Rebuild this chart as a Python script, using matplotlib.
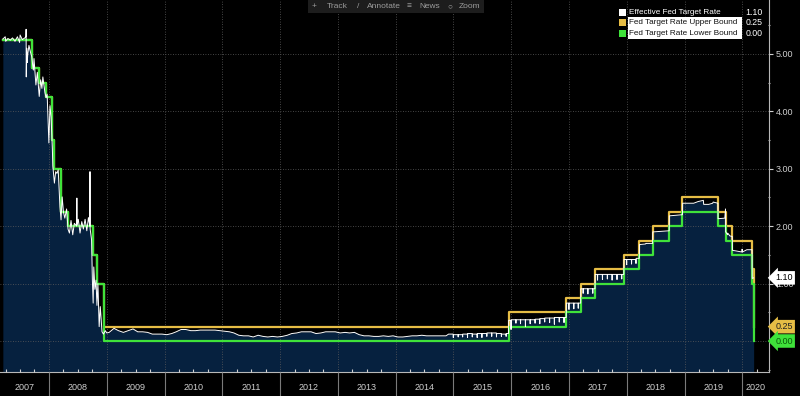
import matplotlib
matplotlib.use('Agg')
import matplotlib.pyplot as plt
import matplotlib.dates as mdates
import matplotlib.transforms as mtransforms
from matplotlib.patches import Rectangle
from matplotlib.ticker import MultipleLocator, FixedLocator
import pandas as pd

plt.rcParams['font.family'] = ['Liberation Sans', 'DejaVu Sans']

# Fed target range (step changes)
target_dates = ['2007-03-15', '2007-09-18', '2007-10-31', '2007-12-11', '2008-01-22', '2008-01-30',
                '2008-03-18', '2008-04-30', '2008-10-08', '2008-10-29', '2008-12-16', '2015-12-16',
                '2016-12-14', '2017-03-15', '2017-06-14', '2017-12-13', '2018-03-21', '2018-06-13',
                '2018-09-26', '2018-12-19', '2019-07-31', '2019-09-18', '2019-10-30', '2020-03-03',
                '2020-03-16']
upper_bound = [5.25, 4.75, 4.50, 4.25, 3.50, 3.00, 2.25, 2.00, 1.50, 1.00, 0.25, 0.50, 0.75, 1.00,
               1.25, 1.50, 1.75, 2.00, 2.25, 2.50, 2.25, 2.00, 1.75, 1.25, 0.25]
lower_bound = [5.25, 4.75, 4.50, 4.25, 3.50, 3.00, 2.25, 2.00, 1.50, 1.00, 0.00, 0.25, 0.50, 0.75,
               1.00, 1.25, 1.50, 1.75, 2.00, 2.25, 2.00, 1.75, 1.50, 1.00, 0.00]

# Effective rate, 2007-2008 (volatile)
eff_early_dates = ['2007-03-15', '2007-03-30', '2007-04-02', '2007-04-16', '2007-05-01', '2007-05-15',
                   '2007-05-31', '2007-06-15', '2007-06-29', '2007-07-02', '2007-07-16', '2007-08-01',
                   '2007-08-08', '2007-08-09', '2007-08-10', '2007-08-13', '2007-08-16', '2007-08-20',
                   '2007-08-27', '2007-09-04', '2007-09-14', '2007-09-19', '2007-09-24', '2007-09-28',
                   '2007-10-10', '2007-10-19', '2007-10-31', '2007-11-09', '2007-11-17', '2007-11-23',
                   '2007-12-06', '2007-12-13', '2007-12-20', '2007-12-31', '2008-01-07', '2008-01-14',
                   '2008-01-22', '2008-01-25', '2008-02-04', '2008-02-12', '2008-02-20', '2008-02-28',
                   '2008-03-10', '2008-03-17', '2008-03-24', '2008-04-01', '2008-04-10', '2008-04-21',
                   '2008-04-30', '2008-05-09', '2008-05-19', '2008-05-30', '2008-06-09', '2008-06-24',
                   '2008-06-25', '2008-06-26', '2008-07-04', '2008-07-15', '2008-07-26', '2008-08-05',
                   '2008-08-16', '2008-08-27', '2008-09-06', '2008-09-15', '2008-09-16', '2008-09-17',
                   '2008-09-26', '2008-10-01', '2008-10-06', '2008-10-10', '2008-10-17', '2008-10-24',
                   '2008-10-30', '2008-11-05', '2008-11-13', '2008-11-20', '2008-12-01', '2008-12-10',
                   '2008-12-22', '2008-12-31']
eff_early_vals = [5.26, 5.30, 5.22, 5.27, 5.24, 5.28,
                  5.22, 5.30, 5.20, 5.33, 5.25, 5.28,
                  5.30, 5.43, 4.60, 5.10, 4.85, 5.00,
                  5.15, 5.05, 4.95, 4.82, 4.72, 4.92,
                  4.46, 4.68, 4.26, 4.55, 4.40, 4.60,
                  4.33, 4.24, 4.30, 3.45, 4.10, 3.90,
                  3.35, 3.05, 2.75, 2.95, 2.92, 2.98,
                  2.34, 2.11, 2.51, 2.25, 2.14, 2.30,
                  1.95, 1.88, 2.10, 1.85, 2.05, 2.00,
                  2.49, 2.02, 2.12, 1.88, 2.08, 1.95,
                  2.12, 1.92, 2.15, 2.00, 2.95, 1.95,
                  1.76, 1.06, 0.66, 1.29, 0.90, 1.06,
                  0.62, 1.00, 0.25, 0.60, 0.16, 0.12,
                  0.18, 0.14]

# Effective rate, 2009 - Nov 2014 (monthly, mid-month)
eff_mid_months = pd.date_range('2009-01-01', '2014-11-01', freq='MS') + pd.Timedelta(days=14)
eff_mid_vals = [0.15, 0.22, 0.18, 0.15, 0.18, 0.21, 0.16, 0.16, 0.15, 0.12, 0.12, 0.12,
                0.11, 0.13, 0.16, 0.20, 0.20, 0.18, 0.18, 0.19, 0.19, 0.19, 0.19, 0.18,
                0.17, 0.16, 0.14, 0.10, 0.09, 0.09, 0.07, 0.10, 0.08, 0.07, 0.08, 0.07,
                0.08, 0.10, 0.13, 0.14, 0.16, 0.16, 0.16, 0.13, 0.14, 0.16, 0.16, 0.16,
                0.14, 0.15, 0.14, 0.15, 0.11, 0.09, 0.09, 0.08, 0.08, 0.09, 0.08, 0.09,
                0.07, 0.07, 0.08, 0.09, 0.09, 0.10, 0.09, 0.09, 0.09, 0.09, 0.09]

# Effective rate, Dec 2014 - Mar 2018: segment level and the month-end value
comb_start = ['2014-12-01', '2015-01-01', '2015-02-01', '2015-03-01', '2015-04-01', '2015-05-01',
              '2015-06-01', '2015-07-01', '2015-08-01', '2015-09-01', '2015-10-01', '2015-11-01',
              '2015-12-01', '2015-12-16', '2016-01-01', '2016-02-01', '2016-03-01', '2016-04-01',
              '2016-05-01', '2016-06-01', '2016-07-01', '2016-08-01', '2016-09-01', '2016-10-01',
              '2016-11-01', '2016-12-01', '2016-12-15', '2017-01-01', '2017-02-01', '2017-03-01',
              '2017-03-16', '2017-04-01', '2017-05-01', '2017-06-01', '2017-06-15', '2017-07-01',
              '2017-08-01', '2017-09-01', '2017-10-01', '2017-11-01', '2017-12-01', '2017-12-14',
              '2018-01-01', '2018-02-01', '2018-03-01', '2018-03-22']
comb_level = [0.12, 0.11, 0.11, 0.12, 0.13, 0.12, 0.13, 0.13, 0.14, 0.14, 0.13, 0.12,
              0.13, 0.36, 0.37, 0.37, 0.37, 0.37, 0.37, 0.38, 0.39, 0.40, 0.40, 0.41,
              0.41, 0.41, 0.66, 0.66, 0.66, 0.66, 0.91, 0.91, 0.91, 0.91, 1.16, 1.16,
              1.16, 1.16, 1.16, 1.16, 1.16, 1.42, 1.42, 1.42, 1.44]
comb_end_val = [0.06, 0.07, 0.07, 0.06, 0.07, 0.06, 0.06, 0.08, 0.08, 0.07, 0.08, 0.08,
                0.13, 0.20, 0.31, 0.30, 0.25, 0.30, 0.31, 0.30, 0.33, 0.32, 0.29, 0.33,
                0.32, 0.41, 0.55, 0.56, 0.57, 0.66, 0.83, 0.82, 0.83, 0.91, 1.06, 1.07,
                1.08, 1.06, 1.07, 1.08, 1.16, 1.33, 1.34, 1.35, 1.44]

# Effective rate, Mar 2018 - Mar 2020
eff_late_dates = ['2018-03-22', '2018-04-30', '2018-05-01', '2018-06-13', '2018-06-14', '2018-09-26',
                  '2018-09-27', '2018-12-19', '2018-12-20', '2019-01-31', '2019-02-28', '2019-03-29',
                  '2019-04-15', '2019-04-30', '2019-05-02', '2019-06-03', '2019-06-28', '2019-07-01',
                  '2019-07-31', '2019-08-01', '2019-09-13', '2019-09-16', '2019-09-17', '2019-09-18',
                  '2019-09-19', '2019-09-30', '2019-10-01', '2019-10-15', '2019-10-30', '2019-10-31',
                  '2019-12-30', '2019-12-31', '2020-01-02', '2020-01-30', '2020-03-03', '2020-03-04',
                  '2020-03-13']
eff_late_vals = [1.68, 1.69, 1.70, 1.70, 1.90, 1.92,
                 2.18, 2.20, 2.40, 2.40, 2.40, 2.43,
                 2.44, 2.45, 2.38, 2.38, 2.40, 2.42,
                 2.40, 2.13, 2.14, 2.25, 2.30, 1.90,
                 1.90, 1.85, 1.88, 1.83, 1.82, 1.58,
                 1.55, 1.60, 1.55, 1.59, 1.59, 1.09,
                 1.10]

years = list(range(2007, 2021))
legend_labels = ['Effective Fed Target Rate', 'Fed Target Rate Upper Bound', 'Fed Target Rate Lower Bound']
legend_values = ['1.10', '0.25', '0.00']

BG = 'black'
NAVY = '#06213f'
GOLD = '#e6bd45'
GREEN = '#3fe23a'
TXT = '#cfcfcf'

# assemble the effective series
cx, cy = [], []
cs = pd.to_datetime(comb_start)
for i in range(len(comb_level)):
    s, e = cs[i], cs[i + 1]
    cx += [s, e - pd.Timedelta(days=2), e - pd.Timedelta(days=1)]
    cy += [comb_level[i], comb_level[i], comb_end_val[i]]
eff_x = list(pd.to_datetime(eff_early_dates)) + list(eff_mid_months) + cx + list(pd.to_datetime(eff_late_dates))
eff_y = eff_early_vals + eff_mid_vals + cy + eff_late_vals
tx = pd.to_datetime(target_dates)

fig = plt.figure(figsize=(8, 3.96), dpi=100, facecolor=BG)
ax = fig.add_axes([0, 24 / 396, 769 / 800, 372 / 396])
ax.set_facecolor(BG)

ymin, ymax = -0.54, 5.94
xmin, xmax = pd.Timestamp('2007-02-25'), pd.Timestamp('2020-06-18')

ax.fill_between(eff_x, eff_y, ymin, color=NAVY, lw=0, zorder=1)
ax.step(tx, upper_bound, where='post', color=GOLD, lw=1.6, zorder=3)
ax.step(tx, lower_bound, where='post', color=GREEN, lw=1.6, zorder=4)
ax.plot(eff_x, eff_y, color='white', lw=0.7, zorder=5)

ax.set_xlim(xmin, xmax)
ax.set_ylim(ymin, ymax)

ax.set_axisbelow(False)
ax.grid(True, which='major', color='#5c5c5c', linestyle=(0, (1, 2)), lw=0.6)
for sp in ['top', 'left']:
    ax.spines[sp].set_visible(False)
for sp in ['right', 'bottom']:
    ax.spines[sp].set_color('#b8b8b8')
    ax.spines[sp].set_linewidth(0.8)

ax.xaxis.set_major_locator(mdates.YearLocator())
ax.xaxis.set_minor_locator(mdates.MonthLocator(bymonth=[4, 7, 10]))
ax.tick_params(axis='x', which='major', length=17, direction='out', color='#7a7a7a', width=0.8,
               labelbottom=False)
ax.tick_params(axis='x', which='minor', length=2.5, direction='in', color='#d0d0d0', width=0.8)

ax.yaxis.tick_right()
ax.yaxis.set_major_locator(FixedLocator([0, 1, 2, 3, 4, 5]))
ax.yaxis.set_minor_locator(MultipleLocator(0.5))
ax.set_yticklabels([f'{v:.2f}' for v in [0, 1, 2, 3, 4, 5]])
ax.tick_params(axis='y', which='major', length=3, direction='out', color='#d0d0d0', width=0.8,
               labelsize=6.5, labelcolor=TXT, pad=2)
ax.tick_params(axis='y', which='minor', length=2, direction='inout', color='#b0b0b0', width=0.8)

# year labels centred in each year
trans = mtransforms.blended_transform_factory(ax.transData, ax.transAxes)
for yr in years:
    a = max(pd.Timestamp(f'{yr}-01-01'), xmin)
    b = min(pd.Timestamp(f'{yr + 1}-01-01'), xmax)
    mid = a + (b - a) / 2
    ax.text(mid, -16 / 372, str(yr), transform=trans, ha='center', va='center',
            fontsize=6.5, color=TXT, clip_on=False)

# value boxes on the right axis
ytrans = mtransforms.blended_transform_factory(ax.transAxes, ax.transData)
tags = [(1.10, 'white', 'black'), (0.25, GOLD, '#222222'), (0.00, GREEN, '#0a5a0a')]
for v, fc, tc in tags:
    ax.text(1.008, v, f'{v:.2f}', transform=ytrans, ha='left', va='center', fontsize=6.5,
            color=tc, zorder=10, clip_on=False,
            bbox=dict(boxstyle='larrow,pad=0.25', fc=fc, ec='none'))

# legend block (figure pixel coordinates)
def fx(px):
    return px / 800

def fy(py):
    return 1 - py / 396

fig.add_artist(Rectangle((fx(628), fy(38.5)), fx(742) - fx(628), fy(17.3) - fy(38.5),
                         transform=fig.transFigure, fc='white', ec='none'))
for i, (lab, val, col) in enumerate(zip(legend_labels, legend_values, ['white', GOLD, GREEN])):
    yc = [12.3, 22.7, 33.3][i]
    fig.add_artist(Rectangle((fx(619), fy(yc + 3.5)), fx(7), 7 / 396,
                             transform=fig.transFigure, fc=col, ec='none'))
    fig.text(fx(629), fy(yc), lab, fontsize=5.9, va='center', ha='left',
             color='white' if i == 0 else '#111111')
    fig.text(fx(763), fy(yc), val, fontsize=6.3, va='center', ha='right', color='white')

# toolbar at the top
fig.add_artist(Rectangle((fx(308), fy(13)), fx(176), 13 / 396, transform=fig.transFigure,
                         fc='#1d1d1d', ec='none'))
for px, s in [(312, '+'), (327, 'Track'), (357, '/'), (367, 'Annotate'), (407, '\u2261'),
              (419, 'News'), (447, '\u25cb'), (459, 'Zoom')]:
    fig.text(fx(px), fy(6.5), s, fontsize=6, va='center', ha='left', color='#9c9c9c')

fig.savefig('out.png', dpi=100, facecolor=BG)
